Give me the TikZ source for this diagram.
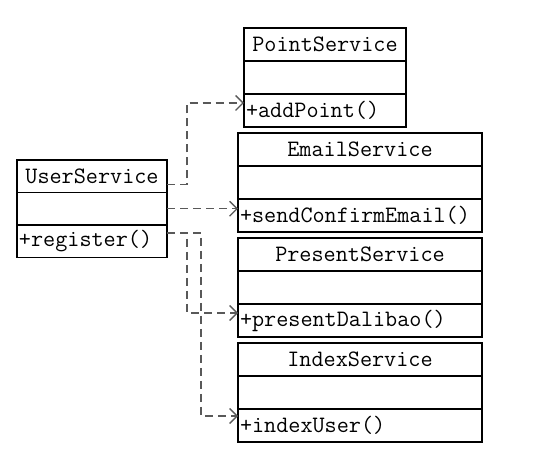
\documentclass[tikz,border=0pt]{standalone}
\usetikzlibrary{positioning}
\usetikzlibrary{arrows.meta}

\begin{document}
\begin{tikzpicture}[x=1pt,y=-1pt,
		umlbox/.style={draw,line width=1.4pt,outer sep=0pt,inner xsep=2pt,inner ysep=0pt,minimum height=33pt,font=\fontsize{23.5}{25}\selectfont\ttfamily},
		umltitle/.style={umlbox,text width=#1,align=center},
		umlrow/.style={umlbox,text width=#1,align=left},
		uses/.style={draw=black!65,dash pattern=on 8pt off 5pt,line width=1.4pt,-{Straight Barb[length=7.5pt,width=15pt]}}]
		\useasboundingbox (0,0) rectangle (539,449);
		% user
		\node[umltitle=146,anchor=north west,minimum height=32.5pt] (user) at (17,160) {UserService};
		\node[umlrow=146,below=0pt of user,minimum height=32.5pt] (userA) {};
		\node[umlrow=146,below=0pt of userA,minimum height=32.5pt] (userM) {+register()};
		% point
		\node[umltitle=158,anchor=north west] (point) at (244,28) {PointService};
		\node[umlrow=158,below=0pt of point] (pointA) {};
		\node[umlrow=158,below=0pt of pointA] (pointM) {+addPoint()};
		% email
		\node[umltitle=240,anchor=north west] (email) at (238,133) {EmailService};
		\node[umlrow=240,below=0pt of email] (emailA) {};
		\node[umlrow=240,below=0pt of emailA] (emailM) {+sendConfirmEmail()};
		% present
		\node[umltitle=240,anchor=north west] (present) at (238,238) {PresentService};
		\node[umlrow=240,below=0pt of present] (presentA) {};
		\node[umlrow=240,below=0pt of presentA] (presentM) {+presentDalibao()};
		% index
		\node[umltitle=240,anchor=north west] (index) at (238,343) {IndexService};
		\node[umlrow=240,below=0pt of index] (indexA) {};
		\node[umlrow=240,below=0pt of indexA] (indexM) {+indexUser()};
		% dependencies
		\draw[uses] ([yshift=8pt]user.south east) -- ++(20,0) |- ([yshift=-9pt]pointM.north west);
		\draw[uses] (userA.east) -- (userA.east -| emailM.west);
		\draw[uses] ([yshift=-8pt]userM.north east) -- ++(20,0) |- ([yshift=-9pt]presentM.north west);
		\draw[uses] ([yshift=-8pt]userM.north east) -- ++(34,0) |- ([yshift=-7pt]indexM.north west);
	\end{tikzpicture}
\end{document}
